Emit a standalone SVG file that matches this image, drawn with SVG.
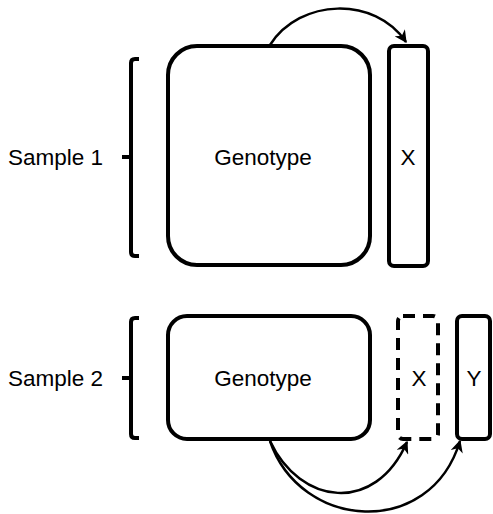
<svg xmlns="http://www.w3.org/2000/svg" width="493" height="514" viewBox="0 0 493 514">
<style>
.box{fill:#fff;stroke:#000;stroke-width:4}
.dash{fill:none;stroke:#000;stroke-width:4;stroke-dasharray:12 8}
.brace{fill:none;stroke:#000;stroke-width:4;stroke-linecap:butt;stroke-linejoin:round}
.t{font-family:"Liberation Sans",Arial,sans-serif;font-size:22.5px;fill:#000}
.c{fill:none;stroke:#000;stroke-width:2.5}
</style>
<defs>
<marker id="ah" viewBox="0 0 10 10" refX="9" refY="5" markerWidth="5" markerHeight="5" orient="auto" markerUnits="strokeWidth">
<path d="M0,0 L10,5 L0,10 L3,5 z" fill="#000"/>
</marker>
</defs>
<g id="sample1">
<path class="brace" d="M139,59 H135 Q131,59 131,63 V252 Q131,256 135,256 H139"/>
<path class="brace" d="M122,157 H131"/>
<text class="t" x="8" y="165">Sample 1</text>
</g>
<g id="genotype1">
<rect class="box" x="168" y="46" width="202" height="219" rx="29"/>
<text class="t" x="263" y="165" text-anchor="middle">Genotype</text>
</g>
<g id="x1">
<rect class="box" x="389" y="46" width="39" height="220" rx="5"/>
<text class="t" x="408" y="165" text-anchor="middle">X</text>
</g>
<g id="sample2">
<path class="brace" d="M139,318 H135 Q131,318 131,322 V434 Q131,438 135,438 H139"/>
<path class="brace" d="M122,378 H131"/>
<text class="t" x="8" y="386">Sample 2</text>
</g>
<g id="genotype2">
<rect class="box" x="168" y="316" width="202" height="123" rx="19"/>
<text class="t" x="263" y="386" text-anchor="middle">Genotype</text>
</g>
<g id="x2">
<rect class="dash" x="398" y="316" width="40" height="123" rx="5"/>
<text class="t" x="419" y="386" text-anchor="middle">X</text>
</g>
<g id="y2">
<rect class="box" x="457" y="316" width="33" height="123" rx="5"/>
<text class="t" x="474" y="386" text-anchor="middle">Y</text>
</g>
<g id="connectors">
<path class="c" d="M270,45 C300,-2 375,-4 406,42" marker-end="url(#ah)"/>
<path class="c" d="M270,441 C300,505 375,515 407,442" marker-end="url(#ah)"/>
<path class="c" d="M270,441 C300,530 430,540 460,441" marker-end="url(#ah)"/>
</g>
</svg>
